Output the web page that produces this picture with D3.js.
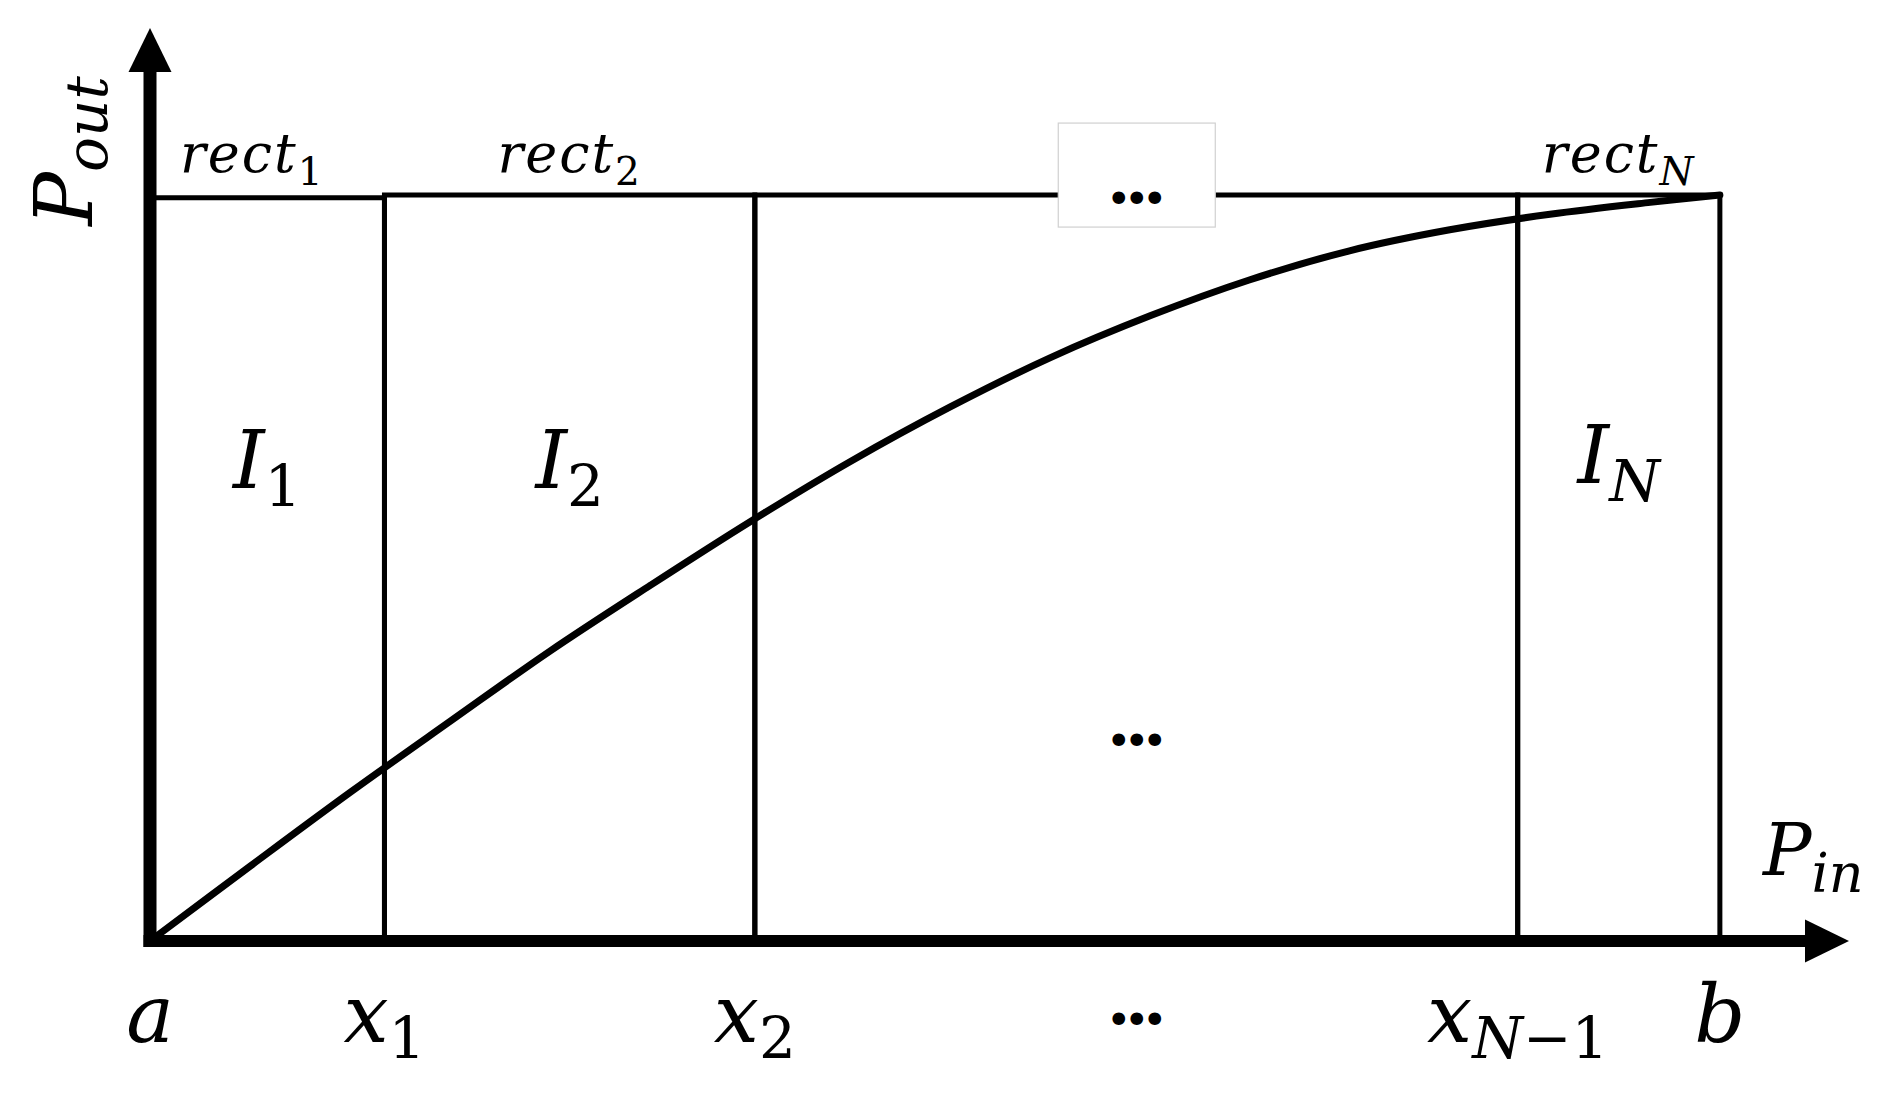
<!DOCTYPE html>
<html>
<head>
<meta charset="utf-8">
<script src="https://cdn.jsdelivr.net/npm/d3@7/dist/d3.min.js"></script>
<style>
  html, body { margin: 0; padding: 0; background: #ffffff; }
  svg { display: block; }
  text { font-family: "DejaVu Serif", "Liberation Serif", serif; fill: #000; }
</style>
</head>
<body>
<div id="chart"></div>
<script>
// ---------------- data ----------------
// interval boundaries on the P_in axis: a, x1, x2, x_{N-1}, b
const boundaryValues = [0, 1.38, 3.56, 8.05, 9.24];
const boundaryMain   = ["a", "x", "x", "x", "b"];
const boundarySub    = ["", "1", "2", "N−1", ""];
// rectangle heights (top edge) for the intervals I1, I2, ..., IN
const rectTops       = [8.14, 8.17, 8.17, 8.17];
const intervalSubs   = ["1", "2", "…", "N"];
// saturating transfer curve P_out(P_in)
const curveX = [0, 0.59, 1.18, 1.77, 2.35, 2.94, 3.53, 4.12, 4.71, 5.30, 5.89, 6.47, 7.06, 7.65, 8.24, 8.83, 9.24];
const curveY = [0, 0.82, 1.63, 2.41, 3.17, 3.89, 4.59, 5.25, 5.85, 6.39, 6.85, 7.24, 7.56, 7.79, 7.96, 8.09, 8.17];
const axisMax = 10;

// ---------------- layout ----------------
const W = 1891, H = 1096;
const svg = d3.select("#chart").append("svg").attr("width", W).attr("height", H);
svg.append("rect").attr("width", W).attr("height", H).attr("fill", "#fff");

const x = d3.scaleLinear().domain([0, axisMax]).range([150, 1849]);
const y = d3.scaleLinear().domain([0, axisMax]).range([941, 28]);

const g = svg.append("g");

// rectangles (outline only)
const intervals = rectTops.map((top, i) => ({ x0: boundaryValues[i], x1: boundaryValues[i + 1], top, sub: intervalSubs[i] }));
g.selectAll("path.rect").data(intervals).join("path")
  .attr("class", "rect")
  .attr("d", d => `M${x(d.x0)},${y(0)}V${y(d.top)}H${x(d.x1)}V${y(0)}`)
  .attr("fill", "none").attr("stroke", "#000").attr("stroke-width", 5)
  .attr("stroke-linejoin", "miter");

// transfer curve
const pts = curveX.map((v, i) => [v, curveY[i]]);
g.append("path")
  .attr("d", d3.line().x(d => x(d[0])).y(d => y(d[1])).curve(d3.curveCatmullRom.alpha(0.5))(pts))
  .attr("fill", "none").attr("stroke", "#000").attr("stroke-width", 7).attr("stroke-linecap", "round");

// axes with arrows
const axW = 13, xAxW = 12, arrowLen = 44, arrowHalf = 21.5;
g.append("line")
  .attr("x1", x(0)).attr("x2", x(0))
  .attr("y1", y(0) + xAxW / 2).attr("y2", y(axisMax) + arrowLen - 1)
  .attr("stroke", "#000").attr("stroke-width", axW);
g.append("path")
  .attr("d", `M${x(0)},${y(axisMax)}L${x(0) + arrowHalf},${y(axisMax) + arrowLen}L${x(0) - arrowHalf},${y(axisMax) + arrowLen}Z`)
  .attr("fill", "#000");
g.append("line")
  .attr("x1", x(0) - axW / 2).attr("x2", x(axisMax) - arrowLen + 1)
  .attr("y1", y(0)).attr("y2", y(0))
  .attr("stroke", "#000").attr("stroke-width", xAxW);
g.append("path")
  .attr("d", `M${x(axisMax)},${y(0)}L${x(axisMax) - arrowLen},${y(0) - arrowHalf}L${x(axisMax) - arrowLen},${y(0) + arrowHalf}Z`)
  .attr("fill", "#000");

// ---------------- text helpers ----------------
function mathText(sel, main, sub, o) {
  const t = sel.append("text")
    .attr("x", o.x).attr("y", o.y)
    .attr("text-anchor", o.anchor || "middle")
    .attr("font-size", o.size)
    .attr("letter-spacing", o.ls || 0);
  if (o.transform) t.attr("transform", o.transform);
  t.append("tspan").text(main).attr("font-style", "italic");
  if (sub) {
    const runs = sub.match(/[A-Za-z]+|[^A-Za-z]+/g);
    runs.forEach((r, i) => {
      const ts = t.append("tspan").text(r)
        .attr("font-size", o.subSize)
        .attr("font-style", /[A-Za-z]/.test(r) ? "italic" : "normal");
      if (i === 0) ts.attr("dy", o.subDy);
    });
  }
  return t;
}
function dots(sel, cx, cy) {
  sel.append("text").attr("x", cx).attr("y", cy)
    .attr("text-anchor", "middle").attr("dominant-baseline", "central")
    .attr("font-family", "DejaVu Sans").attr("font-weight", "bold")
    .attr("font-size", 36).attr("letter-spacing", -5).text("•••");
}

// rect labels above each rectangle
intervals.forEach((d, i) => {
  const cx = (x(d.x0) + x(d.x1)) / 2;
  if (d.sub === "…") {
    // boxed ellipsis on top edge
    g.append("rect").attr("x", cx - 78).attr("y", y(d.top) - 72).attr("width", 157).attr("height", 104)
      .attr("fill", "#fff").attr("stroke", "#d0d0d0").attr("stroke-width", 1.2);
    dots(g, cx - 2, y(d.top) + 2);
    // ellipsis inside
    dots(g, cx - 2, 739);
    return;
  }
  mathText(g, "rect", d.sub, { x: cx + (i === 0 ? -15 : 0), y: 172, size: 54, subSize: 39, subDy: 13, ls: 2 });
  mathText(g, "I", d.sub, { x: cx, y: i === 3 ? 483 : 488, size: 80, subSize: 58, subDy: 18 });
});

// boundary labels under the axis
boundaryValues.forEach((v, i) => {
  mathText(g, boundaryMain[i], boundarySub[i], { x: x(v), y: 1042, size: 80, subSize: 58, subDy: 16 });
});
// ellipsis between x2 and x_{N-1}
dots(g, (x(boundaryValues[2]) + x(boundaryValues[3])) / 2 - 2, 1018);

// axis titles
mathText(g, "P", "in", { x: 1763, y: 875, anchor: "start", size: 72, subSize: 54, subDy: 17 });
mathText(g, "P", "out", { x: 0, y: 0, transform: "translate(92,151) rotate(-90)", size: 80, subSize: 58, subDy: 15 });
</script>
</body>
</html>
